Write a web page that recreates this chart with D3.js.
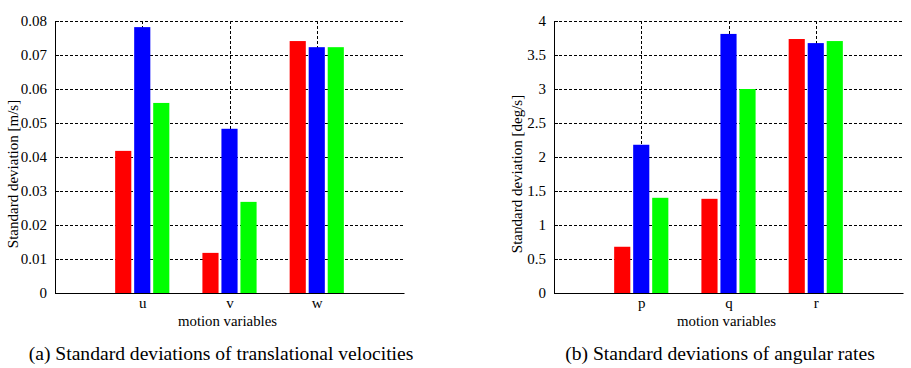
<!DOCTYPE html>
<html>
<head>
<meta charset="utf-8">
<script src="https://cdn.jsdelivr.net/npm/d3@7"></script>
<style>
  html,body{margin:0;padding:0;background:#fff;}
  svg{display:block;}
  text{font-family:"Liberation Serif","Tinos","Times New Roman","DejaVu Serif",serif;fill:#000;}
</style>
</head>
<body>
<svg id="chart" width="911" height="368"></svg>
<script>
// values (red, blue, green bars per variable)
const transVars=["u","v","w"];
const transRed=[0.0418,0.0118,0.0741];
const transBlue=[0.0782,0.0483,0.0723];
const transGreen=[0.0559,0.0268,0.0723];
const transTicks=[0,0.01,0.02,0.03,0.04,0.05,0.06,0.07,0.08];

const angVars=["p","q","r"];
const angRed=[0.68,1.385,3.735];
const angBlue=[2.18,3.81,3.675];
const angGreen=[1.40,3.00,3.705];
const angTicks=[0,0.5,1,1.5,2,2.5,3,3.5,4];

const seriesColors=["#ff0000","#0000ff","#00ff00"];
const SERIF='"Liberation Serif","Tinos","Times New Roman","DejaVu Serif",serif';

const svg=d3.select("#chart");

function drawPanel(opt){
  const {left,top,width,height,cats,series,ticks,yMax,yLabel,yLabelX,caption,captionX}=opt;
  const g=svg.append("g").attr("transform",`translate(${left},${top})`);

  const x=d3.scaleLinear().domain([0,cats.length+1]).range([0,width]);
  const y=d3.scaleLinear().domain([0,yMax]).range([height,0]);
  const unit=x(1)-x(0);
  const barW=unit*0.185, step=unit*0.218;

  // grid (behind bars)
  g.append("g").selectAll("line.gh").data(ticks.filter(d=>d>0)).join("line")
    .attr("x1",0).attr("x2",width).attr("y1",d=>Math.round(y(d))+0.5).attr("y2",d=>Math.round(y(d))+0.5)
    .attr("stroke","#000").attr("stroke-width",1).attr("stroke-dasharray","3,2");
  g.append("g").selectAll("line.gv").data(cats).join("line")
    .attr("x1",(d,i)=>Math.round(x(i+1))+0.5).attr("x2",(d,i)=>Math.round(x(i+1))+0.5)
    .attr("y1",0).attr("y2",height)
    .attr("stroke","#000").attr("stroke-width",1).attr("stroke-dasharray","3,2");

  // bars
  series.forEach((vals,s)=>{
    g.append("g").selectAll("rect").data(vals).join("rect")
      .attr("x",(d,i)=>x(i+1)+(s-1)*step-barW/2)
      .attr("y",d=>y(d))
      .attr("width",barW)
      .attr("height",d=>height-y(d))
      .attr("fill",seriesColors[s]);
  });

  // y axis, ticks inward
  const ya=g.append("g").call(d3.axisLeft(y).tickValues(ticks).tickSizeInner(-4).tickSizeOuter(0)
      .tickPadding(8).tickFormat(d=>String(+d.toFixed(3))));
  ya.select(".domain").attr("stroke","#000").attr("stroke-width",1);
  ya.selectAll(".tick line").attr("stroke","#000");
  ya.selectAll("text").style("font-family",SERIF).style("font-size","15px").attr("fill","#000");

  // x axis line + labels
  const xa=g.append("g").attr("transform",`translate(0,${height})`)
    .call(d3.axisBottom(x).tickValues(d3.range(1,cats.length+1)).tickSize(0).tickPadding(4)
      .tickFormat(d=>cats[d-1]));
  xa.select(".domain").attr("stroke","#000").attr("stroke-width",1);
  xa.selectAll("text").style("font-family",SERIF).style("font-size","15px").attr("fill","#000");

  g.append("text").attr("x",width/2-2).attr("y",height+33)
    .attr("text-anchor","middle").style("font-family",SERIF).style("font-size","14.8px")
    .text("motion variables");

  g.append("text").attr("transform",`translate(${yLabelX-left},${height/2+17}) rotate(-90)`)
    .attr("text-anchor","middle").style("font-family",SERIF).style("font-size","15px")
    .text(yLabel);

  svg.append("text").attr("x",captionX).attr("y",360)
    .attr("text-anchor","middle").style("font-family",SERIF).style("font-size","19.6px")
    .text(caption);
}

drawPanel({left:55,top:21,width:349,height:272,cats:transVars,
  series:[transRed,transBlue,transGreen],ticks:transTicks,yMax:0.08,
  yLabel:"Standard deviation [m/s]",yLabelX:18,
  caption:"(a) Standard deviations of translational velocities",captionX:221});

drawPanel({left:554,top:21,width:349,height:272,cats:angVars,
  series:[angRed,angBlue,angGreen],ticks:angTicks,yMax:4,
  yLabel:"Standard deviation [deg/s]",yLabelX:522,
  caption:"(b) Standard deviations of angular rates",captionX:720});
</script>
</body>
</html>
